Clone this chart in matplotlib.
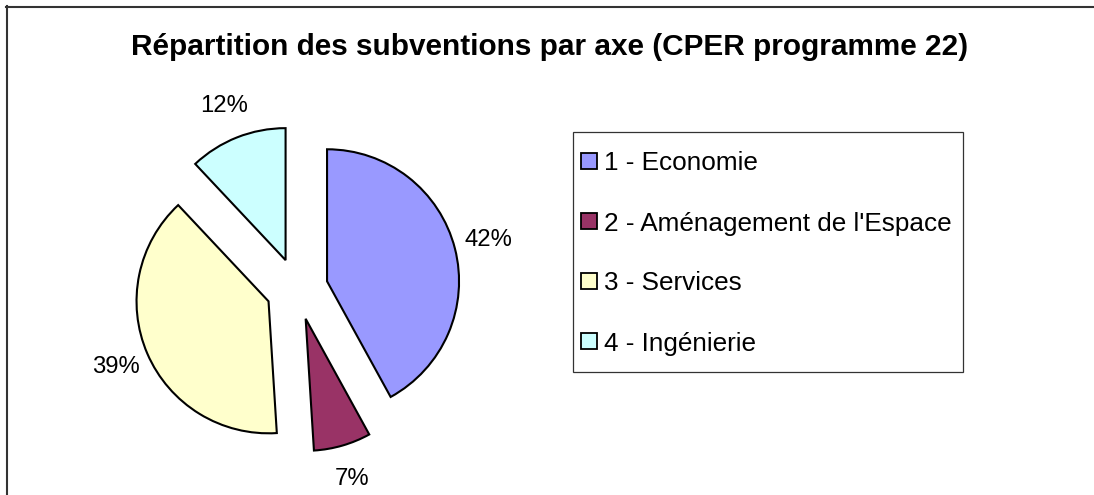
import matplotlib
matplotlib.use("Agg")
import matplotlib.pyplot as plt
from matplotlib.patches import Rectangle
from matplotlib.lines import Line2D

plt.rcParams['font.family'] = ['Liberation Sans', 'DejaVu Sans']

title = "Répartition des subventions par axe (CPER programme 22)"
categories = ["1 - Economie", "2 - Aménagement de l'Espace", "3 - Services", "4 - Ingénierie"]
values = [42, 7, 39, 12]
colors = ["#9999FF", "#993366", "#FFFFCC", "#CCFFFF"]

W, H = 1094, 495
fig = plt.figure(figsize=(W / 100, H / 100), dpi=100)

# pie axes: centre at (297, 289) px from top-left, radius 132 px
cx, cy, R, L = 297, 289, 132, 1.6
half = R * L
ax = fig.add_axes([(cx - half) / W, (H - cy - half) / H, 2 * half / W, 2 * half / H])
ax.pie(values, colors=colors, startangle=90, counterclock=False,
       explode=[0.235] * len(values),
       wedgeprops=dict(edgecolor='black', linewidth=1.5),
       autopct='%1.0f%%', pctdistance=1.26,
       textprops=dict(fontsize=17.2, color='black'))
ax.set_xlim(-L, L)
ax.set_ylim(-L, L)
ax.set_aspect('equal')
ax.axis('off')

# title
fig.text(550 / W, 1 - 47 / H, title, ha='center', va='center',
         fontsize=21.4, fontweight='bold')

# chart frame (top and left visible)
fig.add_artist(Line2D([6 / W, 1], [1 - 6.5 / H, 1 - 6.5 / H], transform=fig.transFigure,
                      color='#333333', linewidth=1.5))
fig.add_artist(Line2D([6.5 / W, 6.5 / W], [0, 1 - 6 / H], transform=fig.transFigure,
                      color='#333333', linewidth=1.5))

# legend box
lx0, ly0, lx1, ly1 = 573, 132, 963, 372
fig.add_artist(Rectangle((lx0 / W, 1 - ly1 / H), (lx1 - lx0) / W, (ly1 - ly0) / H,
                         transform=fig.transFigure, facecolor='white',
                         edgecolor='#333333', linewidth=0.9))
for i, (lab, col) in enumerate(zip(categories, colors)):
    yc = 161 + 60 * i
    fig.add_artist(Rectangle((581 / W, 1 - (yc + 8) / H), 16 / W, 16 / H,
                             transform=fig.transFigure, facecolor=col,
                             edgecolor='black', linewidth=1.3))
    fig.text(604 / W, 1 - yc / H, lab, ha='left', va='center_baseline',
             fontsize=18.8)

fig.savefig("out.png", dpi=100)
